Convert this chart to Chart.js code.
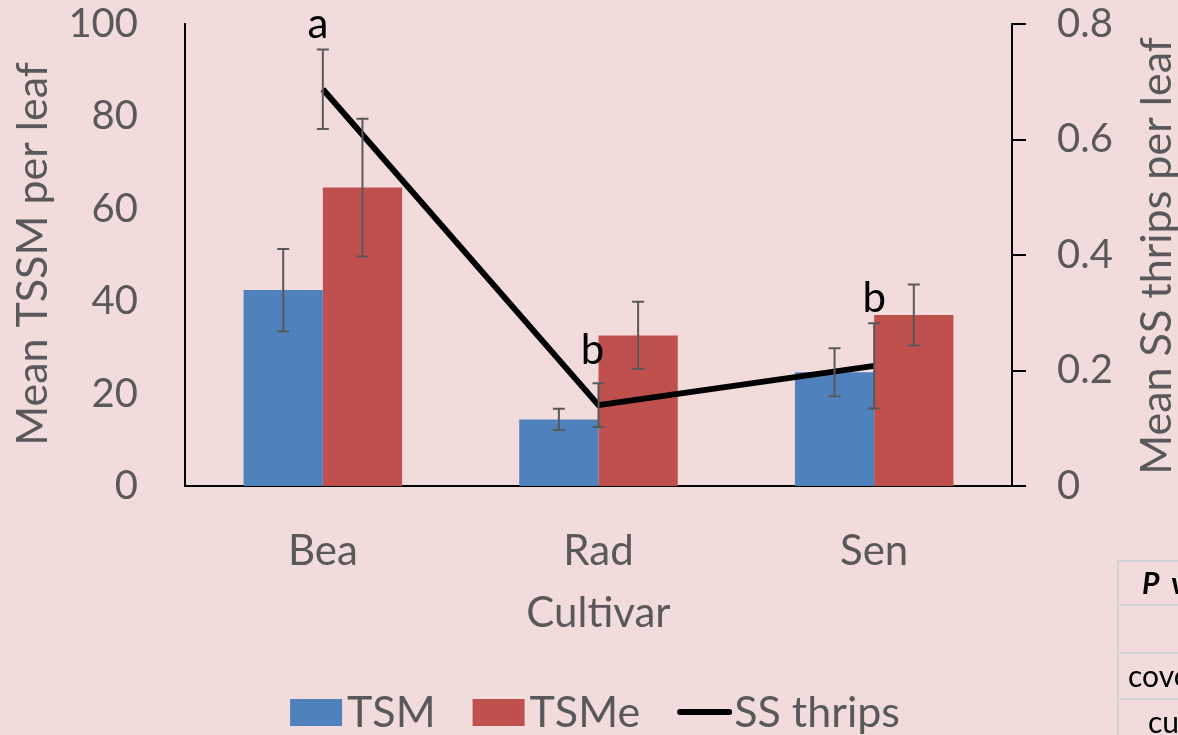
<!DOCTYPE html>
<html>
<head>
<meta charset="utf-8">
<script src="https://cdn.jsdelivr.net/npm/chart.js@4.4.1/dist/chart.umd.min.js"></script>
<style>
  html, body { margin: 0; padding: 0; background: #F2DCDB; overflow: hidden; }
  #wrap { position: relative; width: 1178px; height: 735px; overflow: hidden; }
  #chart { position: absolute; left: 0; top: 0; }
  .tbl { position: absolute; left: 1117px; top: 560px; width: 300px; font-family: Lato, sans-serif; }
  .row { position: relative; border: 2px solid #d3d3d3; border-top: none; box-sizing: border-box; }
  .row:first-child { border-top: 2px solid #d3d3d3; }
  .row span { position: absolute; top: 50%; transform: translateY(-52%); white-space: nowrap; font-size: 30px; color: #000; }
</style>
</head>
<body>
<div id="wrap">
  <canvas id="chart" width="1178" height="735"></canvas>
  <div class="tbl">
    <div class="row" style="height:46px"><span style="left:23px;font-weight:bold;font-style:italic">P &nbsp;value</span></div>
    <div class="row" style="height:48px"></div>
    <div class="row" style="height:46px"><span style="left:9px">cover crop</span></div>
    <div class="row" style="height:46px"><span style="left:29px">cultivar</span></div>
  </div>
</div>
<script>
'use strict';

// ── DATA ─────────────────────────────────────────────────────────
var categories = ['Bea', 'Rad', 'Sen'];
var tsmValues    = [42.4, 14.4, 24.6];
var tsmErrors    = [8.9, 2.3, 5.2];
var tsmeValues   = [64.6, 32.6, 37.0];
var tsmeErrors   = [14.9, 7.3, 6.6];
var thripsValues = [0.687, 0.140, 0.208];
var thripsErrors = [0.069, 0.038, 0.074];
var thripsLetters = ['a', 'b', 'b'];
var leftTicks  = [0, 20, 40, 60, 80, 100];
var rightTicks = [0, 0.2, 0.4, 0.6, 0.8];

var FONT = 'Lato, "Noto Sans", sans-serif';
var GREY = '#595959';

// ── ERROR BARS + LETTERS ─────────────────────────────────────────
var errorBars = {
  id: 'errorBars',
  afterDatasetsDraw: function (chart) {
    var ctx = chart.ctx;
    ctx.save();
    chart.data.datasets.forEach(function (ds, di) {
      var meta  = chart.getDatasetMeta(di);
      var scale = chart.scales[meta.yAxisID];
      meta.data.forEach(function (el, i) {
        var v = ds.data[i], e = ds.errors[i];
        var yTop = scale.getPixelForValue(v + e);
        var yBot = scale.getPixelForValue(v - e);
        ctx.strokeStyle = GREY;
        ctx.lineWidth = 2;
        ctx.beginPath();
        ctx.moveTo(el.x, yTop); ctx.lineTo(el.x, yBot);
        ctx.moveTo(el.x - 6, yTop); ctx.lineTo(el.x + 6, yTop);
        ctx.moveTo(el.x - 6, yBot); ctx.lineTo(el.x + 6, yBot);
        ctx.stroke();

        if (ds.letters) {
          ctx.fillStyle = '#000';
          ctx.font = '42px ' + FONT;
          ctx.textAlign = 'center';
          ctx.textBaseline = 'alphabetic';
          var dx = i === 1 ? -6 : (i === 0 ? -5 : 0);
          var dy = i === 1 ? 19 : 11;
          ctx.fillText(ds.letters[i], el.x + dx, yTop - dy);
        }
      });
    });
    ctx.restore();
  }
};

// ── AXIS TITLES (both read bottom-to-top, like Excel) ───────────
var axisTitles = {
  id: 'axisTitles',
  afterDraw: function (chart) {
    var ctx = chart.ctx;
    var mid = (chart.chartArea.top + chart.chartArea.bottom) / 2;
    ctx.save();
    ctx.fillStyle = GREY;
    ctx.font = '43px ' + FONT;
    ctx.textAlign = 'center';
    ctx.textBaseline = 'alphabetic';
    [[47, mid - 1, 'Mean TSSM per leaf'], [1171, mid + 1, 'Mean SS thrips per leaf']].forEach(function (t) {
      ctx.save();
      ctx.translate(t[0], t[1]);
      ctx.rotate(-Math.PI / 2);
      ctx.fillText(t[2], 0, 0);
      ctx.restore();
    });
    ctx.restore();
  }
};

// ── LEGEND (drawn by hand, Excel-style tight spacing) ────────────
var bottomLegend = {
  id: 'bottomLegend',
  afterDraw: function (chart) {
    var ctx = chart.ctx;
    ctx.save();
    ctx.font = '43px ' + FONT;
    ctx.textBaseline = 'middle';
    ctx.textAlign = 'left';
    var items = [chart.data.datasets[1], chart.data.datasets[2], chart.data.datasets[0]];
    var boxW = 52, gap = 5, spacing = 37;
    var total = 0;
    items.forEach(function (ds, k) {
      total += boxW + gap + ctx.measureText(ds.label).width + (k < items.length - 1 ? spacing : 0);
    });
    var x = 595 - total / 2, y = 712;
    items.forEach(function (ds) {
      if (ds.type === 'line') {
        ctx.strokeStyle = ds.borderColor;
        ctx.lineWidth = 6;
        ctx.lineCap = 'round';
        ctx.beginPath();
        ctx.moveTo(x + 3, y); ctx.lineTo(x + boxW, y);
        ctx.stroke();
      } else {
        ctx.fillStyle = ds.backgroundColor;
        ctx.fillRect(x, y - 13, boxW, 27);
      }
      ctx.fillStyle = GREY;
      ctx.fillText(ds.label, x + boxW + gap, y + 1);
      x += boxW + gap + ctx.measureText(ds.label).width + spacing;
    });
    ctx.restore();
  }
};

// ── CHART ────────────────────────────────────────────────────────
var ctx = document.getElementById('chart').getContext('2d');

new Chart(ctx, {
  type: 'bar',
  data: {
    labels: categories,
    datasets: [
      {
        type: 'line',
        label: 'SS thrips',
        data: thripsValues,
        errors: thripsErrors,
        letters: thripsLetters,
        yAxisID: 'y1',
        borderColor: '#000',
        borderWidth: 6,
        pointRadius: 0,
        tension: 0,
        fill: false,
        order: 0
      },
      {
        label: 'TSM',
        data: tsmValues,
        errors: tsmErrors,
        yAxisID: 'y',
        backgroundColor: '#4F81BD',
        order: 1
      },
      {
        label: 'TSMe',
        data: tsmeValues,
        errors: tsmeErrors,
        yAxisID: 'y',
        backgroundColor: '#C0504D',
        order: 1
      }
    ]
  },
  options: {
    responsive: false,
    animation: false,
    categoryPercentage: 0.575,
    barPercentage: 1,
    layout: { padding: { top: 24, bottom: 60, left: 0, right: 0 } },
    plugins: {
      legend:  { display: false },
      tooltip: { enabled: false }
    },
    scales: {
      x: {
        grid: { display: false, drawTicks: false },
        border: { display: true, color: '#000', width: 2 },
        ticks: { color: GREY, font: { family: FONT, size: 42 }, padding: 40 },
        title: {
          display: true, text: 'Cul\u200Ctivar', color: GREY,
          font: { family: FONT, size: 42 }, padding: { top: 0, bottom: 36 }
        },
        afterFit: function (s) { s.height = 189; }
      },
      y: {
        position: 'left',
        min: 0, max: 100,
        afterBuildTicks: function (s) { s.ticks = leftTicks.map(function (v) { return { value: v }; }); },
        grid: { display: false, drawTicks: false },
        border: { display: true, color: '#000', width: 2 },
        ticks: { color: GREY, font: { family: FONT, size: 40 }, padding: 47 },
        afterFit: function (s) { s.width = 185; s.paddingTop = 0; s.paddingBottom = 0; }
      },
      y1: {
        position: 'right',
        min: 0, max: 0.8,
        afterBuildTicks: function (s) { s.ticks = rightTicks.map(function (v) { return { value: v }; }); },
        grid: { display: true, drawOnChartArea: false, drawTicks: true, tickLength: 14, color: '#000', lineWidth: 2 },
        border: { display: true, color: '#000', width: 2 },
        ticks: { color: GREY, font: { family: FONT, size: 40 }, padding: 31 },
        afterFit: function (s) { s.width = 166; s.paddingTop = 0; s.paddingBottom = 0; }
      }
    }
  },
  plugins: [errorBars, axisTitles, bottomLegend]
});
</script>
</body>
</html>
